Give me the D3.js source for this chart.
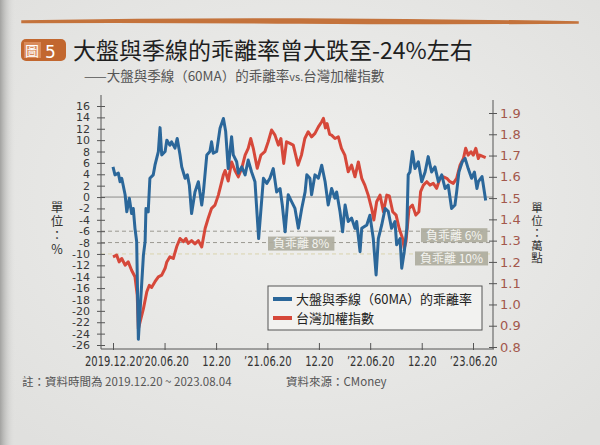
<!DOCTYPE html>
<html>
<head>
<meta charset="utf-8">
<script src="https://cdn.jsdelivr.net/npm/d3@7"></script>
<style>
  body { margin: 0; background: #e9e9e7; }
  svg text { font-family: "DejaVu Sans", sans-serif; }
  .cjk { font-family: "Noto Sans CJK TC", "Noto Sans CJK SC", sans-serif; }
  .vert { writing-mode: vertical-rl; text-orientation: upright; }
</style>
</head>
<body>
<script>
// deviation of TAIEX from its 60-day MA (%), left axis
var deviation = [
  ["2019-12-20",5.3],["2019-12-27",3.9],["2020-01-08",4.2],["2020-01-14",2.7],["2020-01-20",3.3],
  ["2020-02-01",0.4],["2020-02-07",-2.6],["2020-02-16",-0.2],["2020-02-24",-2.9],["2020-03-01",-2.0],
  ["2020-03-07",-5.5],["2020-03-13",-7.8],["2020-03-19",-25.0],["2020-04-06",-10.2],["2020-04-12",-7.8],
  ["2020-04-15",-2.0],["2020-04-23",-2.6],["2020-04-29",3.3],["2020-05-11",3.9],["2020-05-17",5.6],
  ["2020-05-29",8.0],["2020-06-04",12.2],["2020-06-10",7.4],["2020-06-22",8.0],["2020-06-28",10.0],
  ["2020-07-09",9.1],["2020-07-15",9.7],["2020-07-27",8.6],["2020-08-04",10.3],["2020-08-14",7.4],
  ["2020-08-20",5.3],["2020-09-01",3.3],["2020-09-09",3.9],["2020-09-16",2.1],["2020-09-24",-2.9],
  ["2020-10-06",0.9],["2020-10-18",2.7],["2020-10-30",-1.4],["2020-11-05",0.9],["2020-11-17",7.4],
  ["2020-11-28",8.0],["2020-12-04",9.7],["2020-12-10",7.7],["2020-12-22",8.0],["2021-01-03",12.1],
  ["2021-01-15",13.8],["2021-01-23",11.5],["2021-02-01",5.0],["2021-02-13",10.6],["2021-02-19",7.4],
  ["2021-03-03",6.2],["2021-03-09",4.2],["2021-03-21",5.3],["2021-04-02",3.9],["2021-04-13",6.5],
  ["2021-04-25",4.4],["2021-05-07",2.7],["2021-05-20",-7.3],["2021-06-06",3.3],["2021-06-18",2.4],
  ["2021-06-29",3.3],["2021-07-11",5.0],["2021-07-23",0.9],["2021-08-04",1.5],["2021-08-12",-1.4],
  ["2021-08-22",-6.1],["2021-09-02",0.4],["2021-09-14",-0.8],["2021-09-26",-2.0],["2021-10-08",-5.5],
  ["2021-10-20",-2.0],["2021-11-01",0.9],["2021-11-07",3.9],["2021-11-18",3.3],["2021-11-24",0.4],
  ["2021-12-06",3.9],["2021-12-18",3.3],["2021-12-30",5.6],["2022-01-11",2.7],["2022-01-22",-1.4],
  ["2022-02-03",1.5],["2022-02-15",-0.2],["2022-02-21",0.9],["2022-03-05",-2.6],["2022-03-14",-6.1],
  ["2022-03-23",-1.4],["2022-04-03",-4.3],["2022-04-15",-3.7],["2022-04-27",-5.5],["2022-05-03",-4.3],
  ["2022-05-15",-9.6],["2022-05-21",-5.5],["2022-06-08",-4.9],["2022-06-19",-3.2],["2022-07-01",-7.3],
  ["2022-07-11",-13.7],["2022-07-19",-7.3],["2022-07-31",-4.9],["2022-08-12",-2.0],["2022-08-23",-2.5],
  ["2022-09-04",-5.5],["2022-09-16",-4.3],["2022-09-22",-8.4],["2022-10-04",-7.3],["2022-10-10",-12.5],
  ["2022-10-19",-9.6],["2022-10-28",-5.5],["2022-11-02",3.9],["2022-11-08",4.4],["2022-11-17",8.0],
  ["2022-11-26",5.0],["2022-12-08",6.2],["2022-12-20",2.7],["2023-01-01",4.4],["2023-01-12",7.1],
  ["2023-01-24",4.4],["2023-02-05",5.3],["2023-02-17",2.7],["2023-03-01",3.9],["2023-03-13",1.5],
  ["2023-03-24",2.1],["2023-04-05",-2.0],["2023-04-17",-1.4],["2023-04-23",0.9],["2023-05-01",4.4],
  ["2023-05-13",6.2],["2023-05-23",6.8],["2023-06-03",5.0],["2023-06-15",3.3],["2023-06-25",4.4],
  ["2023-07-04",1.5],["2023-07-09",2.7],["2023-07-22",3.6],["2023-08-04",-0.6]
];

// TAIEX in 萬點 (10k points), right axis
var taiex = [
  ["2019-12-20",1.224],["2020-01-02",1.232],["2020-01-11",1.20],["2020-01-20",1.216],["2020-02-01",1.185],
  ["2020-02-12",1.20],["2020-02-24",1.161],["2020-03-07",1.13],["2020-03-15",1.044],["2020-03-19",0.885],
  ["2020-04-06",0.98],["2020-04-18",1.06],["2020-04-27",1.09],["2020-05-05",1.08],["2020-05-17",1.107],
  ["2020-05-29",1.13],["2020-06-10",1.138],["2020-06-22",1.17],["2020-06-28",1.20],["2020-07-09",1.224],
  ["2020-07-21",1.216],["2020-08-02",1.271],["2020-08-14",1.31],["2020-08-26",1.295],["2020-09-04",1.31],
  ["2020-09-12",1.287],["2020-09-24",1.30],["2020-10-06",1.285],["2020-10-18",1.30],["2020-10-30",1.27],
  ["2020-11-11",1.357],["2020-11-22",1.405],["2020-12-04",1.452],["2020-12-16",1.467],["2020-12-28",1.514],
  ["2021-01-09",1.577],["2021-01-15",1.61],["2021-01-21",1.63],["2021-02-01",1.58],["2021-02-13",1.67],
  ["2021-02-25",1.63],["2021-03-09",1.60],["2021-03-21",1.64],["2021-04-02",1.702],["2021-04-13",1.734],
  ["2021-04-22",1.78],["2021-05-01",1.734],["2021-05-15",1.64],["2021-05-28",1.702],["2021-06-11",1.718],
  ["2021-06-23",1.765],["2021-07-05",1.82],["2021-07-17",1.796],["2021-07-29",1.749],["2021-08-07",1.78],
  ["2021-08-17",1.663],["2021-08-27",1.765],["2021-09-08",1.757],["2021-09-20",1.749],["2021-10-07",1.655],
  ["2021-10-19",1.702],["2021-10-31",1.78],["2021-11-12",1.812],["2021-11-24",1.788],["2021-12-06",1.804],
  ["2021-12-18",1.835],["2021-12-30",1.859],["2022-01-05",1.875],["2022-01-12",1.83],["2022-01-18",1.85],
  ["2022-01-27",1.80],["2022-02-03",1.796],["2022-02-15",1.78],["2022-02-27",1.788],["2022-03-10",1.734],
  ["2022-03-22",1.702],["2022-04-03",1.624],["2022-04-15",1.655],["2022-04-27",1.60],["2022-05-09",1.67],
  ["2022-05-21",1.593],["2022-06-01",1.561],["2022-06-13",1.514],["2022-06-25",1.452],["2022-07-03",1.397],
  ["2022-07-13",1.483],["2022-07-25",1.514],["2022-08-06",1.436],["2022-08-18",1.514],["2022-08-27",1.51],
  ["2022-09-08",1.436],["2022-09-20",1.42],["2022-10-01",1.357],["2022-10-13",1.31],["2022-10-19",1.263],
  ["2022-10-25",1.295],["2022-11-05",1.452],["2022-11-17",1.467],["2022-11-29",1.42],["2022-12-10",1.436],
  ["2022-12-16",1.53],["2022-12-26",1.561],["2023-01-07",1.577],["2023-01-18",1.561],["2023-01-30",1.569],
  ["2023-02-11",1.546],["2023-02-23",1.593],["2023-03-07",1.60],["2023-03-19",1.593],["2023-03-30",1.577],
  ["2023-04-11",1.569],["2023-04-23",1.593],["2023-05-05",1.655],["2023-05-17",1.686],["2023-05-25",1.734],
  ["2023-06-03",1.702],["2023-06-13",1.718],["2023-06-21",1.702],["2023-06-30",1.734],["2023-07-09",1.686],
  ["2023-07-14",1.702],["2023-08-04",1.69]
];

var xTickDates = ["2019-12-20","2020-06-20","2020-12-20","2021-06-20","2021-12-20","2022-06-20","2022-12-20","2023-06-20"];
var xTickLabels = ["2019.12.20","\u201920.06.20","12.20","\u201921.06.20","12.20","\u201922.06.20","12.20","\u201923.06.20"];
var leftTicks = d3.range(-26, 17, 2);
var rightTicks = [0.8, 0.9, 1.0, 1.1, 1.2, 1.3, 1.4, 1.5, 1.6, 1.7, 1.8, 1.9];
var guideValues = [-6, -8, -10];
var guideLabels = ["負乖離 6%", "負乖離 8%", "負乖離 10%"];
var seriesNames = ["大盤與季線（60MA）的乖離率", "台灣加權指數"];

var parse = d3.timeParse("%Y-%m-%d");
var w = 600, h = 445;
var blue = "#2b679a", red = "#d6483a";

var svg = d3.select("body").append("svg")
    .attr("width", w)
    .attr("height", h);

var defs = svg.append("defs");
var bg = defs.append("radialGradient").attr("id", "bg").attr("cx", "50%").attr("cy", "45%").attr("r", "70%");
bg.append("stop").attr("offset", "0%").attr("stop-color", "#f0f0ee");
bg.append("stop").attr("offset", "100%").attr("stop-color", "#e0e0de");
var shade = defs.append("linearGradient").attr("id", "shade");
shade.append("stop").attr("offset", "0%").attr("stop-color", "#a2a2a0");
shade.append("stop").attr("offset", "100%").attr("stop-color", "#e6e6e4").attr("stop-opacity", 0);

svg.append("rect").attr("width", w).attr("height", h).attr("fill", "url(#bg)");
svg.append("rect").attr("width", 16).attr("height", h).attr("fill", "url(#shade)");

// top brush rule
svg.append("path")
    .attr("d", "M22,21 Q160,18.5 300,19 T578,22 L578,23 Q440,24 300,23 T22,22.5 Z")
    .attr("fill", "#c4733c")
    .attr("stroke", "#c4733c")
    .attr("stroke-width", 1.5);

// title badge
svg.append("rect").attr("x", 21).attr("y", 39).attr("width", 45).attr("height", 22).attr("rx", 5)
    .attr("fill", "#c2672f");
svg.append("rect").attr("x", 24).attr("y", 42).attr("width", 17).attr("height", 16)
    .attr("fill", "#d98b5b");
svg.append("text").attr("class", "cjk").attr("x", 25).attr("y", 56)
    .attr("font-size", 14).attr("fill", "#fff").text("圖");
svg.append("text").attr("x", 45).attr("y", 57.5)
    .attr("font-size", 17).attr("fill", "#fff").text("5");

svg.append("text").attr("class", "cjk").attr("x", 73).attr("y", 59)
    .attr("font-size", 23).attr("fill", "#1f1f1f").attr("font-weight", 400)
    .text("大盤與季線的乖離率曾大跌至-24%左右");

var sub = svg.append("text").attr("class", "cjk").attr("x", 84).attr("y", 81)
    .attr("font-size", 13.5).attr("fill", "#555");
sub.append("tspan").text("——大盤與季線（60MA）的乖離率");
sub.append("tspan").attr("font-size", 11).text("vs.");
sub.append("tspan").text("台灣加權指數");

// scales
var x = d3.scaleTime()
    .domain([parse("2019-12-20"), parse("2023-06-20")])
    .range([113, 473]);
var yL = d3.scaleLinear().domain([-26, 16]).range([345, 106]);
var yR = d3.scaleLinear().domain([0.8, 1.9]).range([347, 113]);

var left = 101, right = 493, bottom = 349;

// zero line and guide lines
svg.append("line")
    .attr("x1", left).attr("x2", right)
    .attr("y1", yL(0)).attr("y2", yL(0))
    .attr("stroke", "#8c8c8a").attr("stroke-width", 1);

svg.selectAll(".guide").data(guideValues).enter().append("line")
    .attr("class", "guide")
    .attr("x1", left).attr("x2", right)
    .attr("y1", function(d){ return yL(d); })
    .attr("y2", function(d){ return yL(d); })
    .attr("stroke", function(d){ return d === -10 ? "#d9d3ad" : "#9a9890"; })
    .attr("stroke-width", 1)
    .attr("stroke-dasharray", "4,3");

// lines
var lineR = d3.line()
    .x(function(d){ return x(parse(d[0])); })
    .y(function(d){ return yR(d[1]); });
var lineL = d3.line()
    .x(function(d){ return x(parse(d[0])); })
    .y(function(d){ return yL(d[1]); });

svg.append("path").datum(taiex)
    .attr("d", lineR)
    .attr("fill", "none").attr("stroke", red)
    .attr("stroke-width", 3).attr("stroke-linejoin", "round");

svg.append("path").datum(deviation)
    .attr("d", lineL)
    .attr("fill", "none").attr("stroke", blue)
    .attr("stroke-width", 3).attr("stroke-linejoin", "round");

// guide labels (boxes)
var glPos = [
  { x: 421, dy: 4 },
  { x: 268, dy: 1 },
  { x: 415, dy: 4.5 }
];
guideValues.forEach(function(v, i){
    var g = svg.append("g").attr("transform", "translate(" + glPos[i].x + "," + (yL(v) + glPos[i].dy) + ")");
    var t = g.append("text").attr("class", "cjk")
        .attr("x", 5).attr("y", 4.5)
        .attr("font-size", 12).attr("fill", "#f4f4f0")
        .text(guideLabels[i]);
    var bw = t.node().getComputedTextLength() + 10;
    g.insert("rect", "text")
        .attr("x", 0).attr("y", -7).attr("width", bw).attr("height", 14)
        .attr("fill", "#aeac9e").attr("opacity", 0.92);
});

// axes
svg.append("line").attr("x1", left).attr("x2", left).attr("y1", 95).attr("y2", bottom)
    .attr("stroke", "#555");
svg.append("line").attr("x1", left).attr("x2", right + 1).attr("y1", bottom).attr("y2", bottom)
    .attr("stroke", "#555");
svg.append("line").attr("x1", right).attr("x2", right).attr("y1", 100).attr("y2", bottom)
    .attr("stroke", "#555");

var axL = svg.append("g")
    .attr("transform", "translate(" + left + ",0)")
    .call(d3.axisLeft(yL).tickValues(leftTicks).tickSize(4).tickPadding(7)
        .tickFormat(function(d){ return String(d); }));
axL.select(".domain").remove();
axL.selectAll(".tick line").attr("x1", 4).attr("stroke", "#555");
axL.selectAll(".tick text").attr("font-size", 11).attr("fill", "#383838")
    .attr("font-family", "DejaVu Sans");

var axR = svg.append("g")
    .attr("transform", "translate(" + right + ",0)")
    .call(d3.axisRight(yR).tickValues(rightTicks).tickSize(4).tickPadding(3)
        .tickFormat(d3.format(".1f")));
axR.select(".domain").remove();
axR.selectAll(".tick line").attr("x1", -4).attr("stroke", "#555");
axR.selectAll(".tick text").attr("font-size", 13).attr("fill", "#a3584c")
    .attr("font-family", "DejaVu Sans");

var axB = svg.append("g")
    .attr("transform", "translate(0," + bottom + ")")
    .call(d3.axisBottom(x).tickValues(xTickDates.map(parse)).tickSize(1)
        .tickFormat(function(d, i){ return xTickLabels[i]; }));
axB.select(".domain").remove();
axB.selectAll(".tick line").attr("y1", -6).attr("stroke", "#555");
axB.selectAll(".tick text")
    .attr("y", 17).attr("dy", 0)
    .attr("font-size", 13.5).attr("fill", "#333")
    .attr("font-family", "Liberation Sans")
    .attr("transform", "scale(0.74,1)");

// unit labels, written vertically
svg.append("text").attr("class", "cjk vert")
    .attr("x", 57).attr("y", 201)
    .attr("font-size", 12.5).attr("letter-spacing", 1.5).attr("fill", "#333")
    .text("單位：%");

svg.append("text").attr("class", "cjk vert")
    .attr("x", 537).attr("y", 202)
    .attr("font-size", 11.5).attr("letter-spacing", 1).attr("fill", "#333")
    .text("單位：萬點");

// legend
var lg = svg.append("g").attr("transform", "translate(268,286)");
lg.append("rect").attr("width", 214).attr("height", 44)
    .attr("fill", "#f2f2f0").attr("stroke", "#555").attr("stroke-width", 1);
[blue, red].forEach(function(c, i){
    lg.append("line").attr("x1", 5).attr("x2", 24)
        .attr("y1", 13 + i * 19).attr("y2", 13 + i * 19)
        .attr("stroke", c).attr("stroke-width", 4);
    lg.append("text").attr("class", "cjk")
        .attr("x", 28).attr("y", 17.5 + i * 19)
        .attr("font-size", 13).attr("fill", "#222")
        .text(seriesNames[i]);
});

// footnote
svg.append("text").attr("class", "cjk").attr("x", 22).attr("y", 386)
    .attr("font-size", 11.5).attr("fill", "#555")
    .text("註：資料時間為 2019.12.20 ~ 2023.08.04");
svg.append("text").attr("class", "cjk").attr("x", 286).attr("y", 386)
    .attr("font-size", 11.5).attr("fill", "#555")
    .text("資料來源：CMoney");
</script>
</body>
</html>
